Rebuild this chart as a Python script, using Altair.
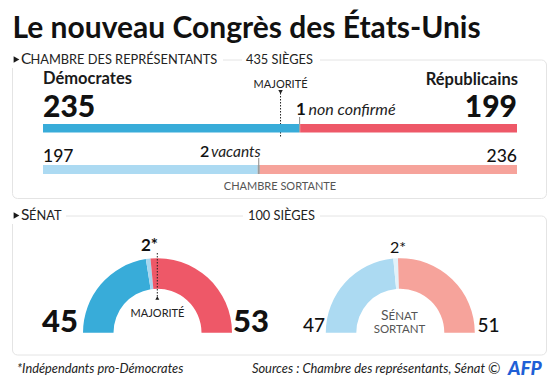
import math
import altair as alt
import pandas as pd

# ---------------- data ----------------
title = "Le nouveau Congrès des États-Unis"
house_keys = ["new_D", "new_X", "new_R"]
house_new = [235, 1, 199]          # Démocrates, non confirmé, Républicains
house_old_keys = ["old_D", "old_X", "old_R"]
house_old = [197, 2, 236]          # Démocrates, vacants, Républicains
house_total = 435
senate_keys = ["sn_D", "sn_I", "sn_R"]
senate_new = [45, 2, 53]           # Démocrates, indépendants*, Républicains
senate_old_keys = ["so_D", "so_I", "so_R"]
senate_old = [47, 2, 51]
senate_total = 100

palette = {
    "new_D": "#38acd9", "new_X": "#9a9a9a", "new_R": "#ee5868",
    "old_D": "#acdaf2", "old_X": "#9a9a9a", "old_R": "#f6a39b",
    "sn_D": "#38acd9", "sn_I": "#a6d6ef", "sn_R": "#ee5868",
    "so_D": "#acdaf2", "so_I": "#e2f2fa", "so_R": "#f6a39b",
}
COLOR = alt.Scale(domain=list(palette.keys()), range=list(palette.values()))

FONT = "Lato"


def px(x):
    return x - 8


def py(y):
    return y - 8


XS = alt.Scale(domain=[0, house_total], range=[px(43), px(517)])
base = pd.DataFrame({"v": [0]})


def T(text, x, y, size, weight="normal", style="normal", align="left", color="#1a1a1a"):
    return alt.Chart(base).mark_text(
        text=text, fontSize=size, fontWeight=weight, fontStyle=style, align=align,
        baseline="alphabetic", color=color, font=FONT,
    ).encode(x=alt.value(px(x)), y=alt.value(py(y)))


def TS(text, seats, y, size, weight="normal", style="normal", align="left", color="#1a1a1a"):
    return alt.Chart(pd.DataFrame({"s": [seats]})).mark_text(
        text=text, fontSize=size, fontWeight=weight, fontStyle=style, align=align,
        baseline="alphabetic", color=color, font=FONT,
    ).encode(x=alt.X("s:Q", scale=XS, axis=None), y=alt.value(py(y)))


def box(x1, x2, y1, y2, fill="white", stroke=None, radius=0):
    kw = dict(fill=fill, cornerRadius=radius)
    if stroke:
        kw.update(stroke=stroke, strokeWidth=1)
    return alt.Chart(base).mark_rect(**kw).encode(
        x=alt.value(px(x1)), x2=alt.value(px(x2)), y=alt.value(py(y1)), y2=alt.value(py(y2))
    )


def stacked(keys, seats):
    start, rows = 0, []
    for k, s in zip(keys, seats):
        rows.append({"key": k, "seats": s, "start": start, "end": start + s})
        start += s
    return pd.DataFrame(rows)


def house_bar(keys, seats, y1, y2):
    return alt.Chart(stacked(keys, seats)).mark_rect().encode(
        x=alt.X("start:Q", scale=XS, axis=None), x2="end:Q",
        y=alt.value(py(y1)), y2=alt.value(py(y2)),
        color=alt.Color("key:N", scale=COLOR, legend=None),
    )


TH = alt.Scale(domain=[0, senate_total], range=[1.5 * math.pi, 2.5 * math.pi])


def senate_arc(keys, seats, cx, cy):
    df = pd.DataFrame({"key": keys, "seats": seats, "o": list(range(len(keys)))})
    return alt.Chart(df).mark_arc(radius=74.5, radius2=44).encode(
        theta=alt.Theta("seats:Q", stack=True, scale=TH),
        color=alt.Color("key:N", scale=COLOR, legend=None),
        order=alt.Order("o:Q"),
        x=alt.value(px(cx)), y=alt.value(py(cy)),
    )


def tri(x, y, shape, size=22):
    return alt.Chart(base).mark_point(shape=shape, filled=True, size=size, color="#1a1a1a", opacity=1).encode(
        x=alt.value(px(x)), y=alt.value(py(y)))


def vline(x, y1, y2, color="#888", dash=None):
    kw = dict(color=color, strokeWidth=1)
    if dash:
        kw["strokeDash"] = dash
    return alt.Chart(base).mark_rule(**kw).encode(
        x=alt.value(px(x)), y=alt.value(py(y1)), y2=alt.value(py(y2)))


def vline_s(seats, y1, y2, color="#888", dash=None):
    kw = dict(color=color, strokeWidth=1)
    if dash:
        kw["strokeDash"] = dash
    return alt.Chart(pd.DataFrame({"s": [seats]})).mark_rule(**kw).encode(
        x=alt.X("s:Q", scale=XS, axis=None), y=alt.value(py(y1)), y2=alt.value(py(y2)))


majority_house = house_total // 2 + 1
SMALL = "#555555"

layers = [
    # panels
    box(12.5, 546.5, 60, 198.5, stroke="#e4e4e4", radius=5),
    box(12.5, 546.5, 216, 355, stroke="#e4e4e4", radius=5),
    box(8, 223, 52, 68), box(242, 320, 52, 68),
    box(8, 66, 208, 224), box(243, 320, 208, 224),
    # title & headers
    T(title, 12.5, 37.5, 30, weight="bold", color="#111"),
    tri(16.5, 59.5, "triangle-right", 44),
    T("C", 21, 64.3, 15.5, color="#222"), T("HAMBRE DES REPRÉSENTANTS", 30.5, 64.3, 12.8, color="#222"),
    T(f"{house_total} SIÈGES", 246, 64.3, 12.8, color="#222"),
    # house, new
    T("Démocrates", 43, 84, 16.5, weight="bold"),
    T("Républicains", 518, 85, 16.5, weight="bold", align="right"),
    TS("MAJORITÉ", majority_house, 87.5, 11, align="center", color="#222"),
    vline_s(majority_house, 93, 138, color="#222", dash=[1.5, 1.5]),
    alt.Chart(pd.DataFrame({"s": [majority_house]})).mark_point(
        shape="triangle-down", filled=True, size=20, color="#222", opacity=1).encode(
        x=alt.X("s:Q", scale=XS, axis=None), y=alt.value(py(92))),
    TS(str(house_new[0]), 0, 117, 30, weight=900, color="#111"),
    TS(str(house_new[2]), house_total, 117, 30, weight=900, align="right", color="#111"),
    T(str(house_new[1]), 296, 115, 17, weight="bold", color="#111"),
    T("non confirmé", 308.5, 115, 16, style="italic", color="#222"),
    vline_s(house_new[0] + 0.5, 117, 124),
    house_bar(house_keys, house_new, 124, 132.5),
    # house, old
    TS(str(house_old[0]), 0, 161.5, 17.5, weight=500, color="#111"),
    TS(str(house_old[2]), house_total, 161.5, 17.5, weight=500, align="right", color="#111"),
    T(str(house_old[1]), 200, 157, 16, weight=600, color="#111"),
    T("vacants", 211, 157, 15.5, style="italic", color="#222"),
    vline_s(house_old[0] + 1, 158, 165),
    house_bar(house_old_keys, house_old, 165, 174),
    TS("CHAMBRE SORTANTE", house_total / 2, 190, 11, align="center", color=SMALL),
    # senate header
    tri(16.5, 215.5, "triangle-right", 44),
    T("S", 21, 220.3, 15.5, color="#222"), T("ÉNAT", 29, 220.3, 12.8, color="#222"),
    T(f"{senate_total} SIÈGES", 248, 220.3, 12.8, color="#222"),
    # senate new
    senate_arc(senate_keys, senate_new, 157.5, 332.7),
    T(f"{senate_new[1]}*", 141, 251, 17, weight="bold", color="#111"),
    vline(157.3, 253, 297, color="#222", dash=[1.5, 1.5]),
    tri(157.3, 298, "triangle-up", 16),
    T("MAJORITÉ", 157.5, 317, 11, align="center", color="#222"),
    T(str(senate_new[0]), 42, 332, 31, weight=900, color="#111"),
    T(str(senate_new[2]), 233, 332, 31, weight=900, color="#111"),
    # senate old
    senate_arc(senate_old_keys, senate_old, 400.3, 332.7),
    T(f"{senate_old[1]}*", 390, 252.5, 16, color="#111"),
    T(str(senate_old[0]), 303, 332, 19, weight=500, color="#111"),
    T(str(senate_old[2]), 477.5, 332, 19, weight=500, color="#111"),
    T("S", 381, 320, 14, color=SMALL), T("ÉNAT", 388.5, 320, 11.5, color=SMALL),
    T("SORTANT", 399.5, 333, 11.5, align="center", color=SMALL),
    # footer
    T("*Indépendants pro-Démocrates", 17, 373, 12.8, style="italic", color="#222"),
    T("Sources : Chambre des représentants, Sénat", 485, 373, 12.9, style="italic", align="right", color="#222"),
    T("©", 488, 374, 15, color="#222"),
    T("AFP", 508, 375, 19, weight=900, style="italic", color="#1f5fd6"),
]

chart = alt.layer(*layers).properties(
    width=544, height=375, padding=0, autosize=alt.AutoSizeParams(type="none")
).configure_view(stroke=None)

chart.save("out.html", embed_options={"renderer": "svg", "actions": False})
